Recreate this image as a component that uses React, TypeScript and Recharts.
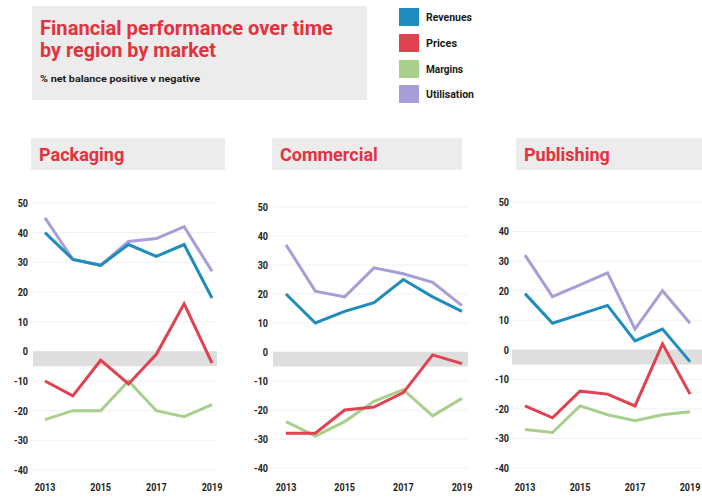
import React from "react";
import {
  LineChart,
  Line,
  XAxis,
  YAxis,
  CartesianGrid,
  ReferenceArea,
} from "recharts";

const years = [2013, 2014, 2015, 2016, 2017, 2018, 2019];
const xTicks = [2013, 2015, 2017, 2019];
const yTicks = [-40, -30, -20, -10, 0, 10, 20, 30, 40, 50];

const seriesNames = ["Revenues", "Prices", "Margins", "Utilisation"];
const seriesColors = ["#1f8cbe", "#e2414f", "#a8cf8b", "#a79dd8"];

const packagingRevenues = [40, 31, 29, 36, 32, 36, 18];
const packagingPrices = [-10, -15, -3, -11, -1, 16, -4];
const packagingMargins = [-23, -20, -20, -10, -20, -22, -18];
const packagingUtilisation = [45, 31, 29, 37, 38, 42, 27];

const commercialRevenues = [20, 10, 14, 17, 25, 19, 14];
const commercialPrices = [-28, -28, -20, -19, -14, -1, -4];
const commercialMargins = [-24, -29, -24, -17, -13, -22, -16];
const commercialUtilisation = [37, 21, 19, 29, 27, 24, 16];

const publishingRevenues = [19, 9, 12, 15, 3, 7, -4];
const publishingPrices = [-19, -23, -14, -15, -19, 2, -15];
const publishingMargins = [-27, -28, -19, -22, -24, -22, -21];
const publishingUtilisation = [32, 18, 22, 26, 7, 20, 9];

const panelTitles = ["Packaging", "Commercial", "Publishing"];

const FONT = "'Roboto', 'Open Sans', sans-serif";
const RED = "#e3323e";
const BOX = "#ececec";

function buildRows(rev: number[], pri: number[], mar: number[], uti: number[]) {
  return years.map((y, i) => ({
    year: y,
    Revenues: rev[i],
    Prices: pri[i],
    Margins: mar[i],
    Utilisation: uti[i],
  }));
}

function XTick(props: any) {
  const { x, y, payload } = props;
  return (
    <text
      transform={`translate(${x},${y}) scale(0.82,1)`}
      x={0}
      y={0}
      dy="0.71em"
      textAnchor="middle"
      fontFamily={FONT}
      fontWeight={700}
      fontSize={11}
      fill="#222"
    >
      {payload.value}
    </text>
  );
}

function YTick(props: any) {
  const { x, y, payload } = props;
  return (
    <text
      transform={`translate(${x},${y}) scale(0.82,1)`}
      x={0}
      y={0}
      dy="0.355em"
      textAnchor="end"
      fontFamily={FONT}
      fontWeight={700}
      fontSize={11}
      fill="#222"
    >
      {payload.value}
    </text>
  );
}

type PanelProps = {
  rows: any[];
  left: number;
  top: number;
  width: number;
  height: number;
  margin: { top: number; right: number; bottom: number; left: number };
  yWidth: number;
  yTickMargin: number;
  xDomain: [number, number];
  xHeight: number;
  xTickMargin: number;
};

function Panel(p: PanelProps) {
  const drawOrder = ["Margins", "Prices", "Utilisation", "Revenues"];
  return (
    <div style={{ position: "absolute", left: p.left, top: p.top }}>
      <LineChart width={p.width} height={p.height} data={p.rows} margin={p.margin}>
        <CartesianGrid vertical={false} stroke="#f1f1f1" strokeWidth={1} />
        <ReferenceArea y1={-5} y2={0} fill="#dedede" fillOpacity={1} stroke="none" />
        <XAxis
          dataKey="year"
          type="number"
          domain={p.xDomain}
          allowDataOverflow
          ticks={xTicks}
          axisLine={false}
          tickLine={false}
          tickSize={0}
          tickMargin={p.xTickMargin}
          height={p.xHeight}
          tick={<XTick />}
          interval={0}
        />
        <YAxis
          type="number"
          domain={[-40, 50]}
          ticks={yTicks}
          axisLine={false}
          tickLine={false}
          tickSize={0}
          tickMargin={p.yTickMargin}
          width={p.yWidth}
          tick={<YTick />}
          interval={0}
        />
        {drawOrder.map((name) => (
          <Line
            key={name}
            type="linear"
            dataKey={name}
            stroke={seriesColors[seriesNames.indexOf(name)]}
            strokeWidth={3}
            dot={false}
            activeDot={false}
            isAnimationActive={false}
          />
        ))}
      </LineChart>
    </div>
  );
}

function Header() {
  const legendY = [8, 34, 60, 85];
  const legendW = [46, 31, 37, 48];
  const boxes = [
    { x: 31, w: 194 },
    { x: 272, w: 190 },
    { x: 516, w: 186 },
  ];
  return (
    <svg width={702} height={497} style={{ position: "absolute", left: 0, top: 0 }}>
      <rect x={32} y={6} width={335} height={94} fill={BOX} />
      <text
        x={40}
        y={35}
        fill={RED}
        fontFamily={FONT}
        fontWeight={700}
        fontSize={20}
        textLength={293}
        lengthAdjust="spacingAndGlyphs"
      >
        Financial performance over time
      </text>
      <text
        x={40}
        y={57}
        fill={RED}
        fontFamily={FONT}
        fontWeight={700}
        fontSize={20}
        textLength={176}
        lengthAdjust="spacingAndGlyphs"
      >
        by region by market
      </text>
      <text
        x={40}
        y={82}
        fill="#1a1a1a"
        fontFamily={FONT}
        fontWeight={700}
        fontSize={9.5}
        textLength={160}
        lengthAdjust="spacingAndGlyphs"
      >
        % net balance positive v negative
      </text>
      {seriesNames.map((n, i) => (
        <g key={n}>
          <rect x={399} y={legendY[i]} width={20} height={18} fill={seriesColors[i]} />
          <text
            x={426}
            y={legendY[i] + 13}
            fill="#1a1a1a"
            fontFamily={FONT}
            fontWeight={700}
            fontSize={11}
            textLength={legendW[i]}
            lengthAdjust="spacingAndGlyphs"
          >
            {n}
          </text>
        </g>
      ))}
      {panelTitles.map((t, i) => (
        <g key={t}>
          <rect x={boxes[i].x} y={138} width={boxes[i].w} height={32} fill={BOX} />
          <text
            x={boxes[i].x + 8}
            y={161}
            fill={RED}
            fontFamily={FONT}
            fontWeight={700}
            fontSize={18}
          >
            {t}
          </text>
        </g>
      ))}
    </svg>
  );
}

export default function App() {
  const packRows = buildRows(packagingRevenues, packagingPrices, packagingMargins, packagingUtilisation);
  const commRows = buildRows(commercialRevenues, commercialPrices, commercialMargins, commercialUtilisation);
  const pubRows = buildRows(publishingRevenues, publishingPrices, publishingMargins, publishingUtilisation);
  return (
    <div
      style={{
        position: "absolute",
        left: 0,
        top: 0,
        width: 702,
        height: 497,
        background: "#fff",
        overflow: "hidden",
      }}
    >
      <Header />
      <Panel
        rows={packRows}
        left={0}
        top={190}
        width={235}
        height={307}
        margin={{ top: 13, right: 18, bottom: 0, left: 0 }}
        yWidth={33}
        yTickMargin={5}
        xDomain={[2012.569, 2019.18]}
        xHeight={27}
        xTickMargin={13}
      />
      <Panel
        rows={commRows}
        left={235}
        top={190}
        width={245}
        height={307}
        margin={{ top: 17, right: 12, bottom: 0, left: 0 }}
        yWidth={38}
        yTickMargin={5}
        xDomain={[2012.557, 2019.205]}
        xHeight={29}
        xTickMargin={15}
      />
      <Panel
        rows={pubRows}
        left={470}
        top={190}
        width={232}
        height={307}
        margin={{ top: 12, right: 0, bottom: 0, left: 0 }}
        yWidth={42}
        yTickMargin={3}
        xDomain={[2012.527, 2019.436]}
        xHeight={29}
        xTickMargin={15}
      />
    </div>
  );
}
